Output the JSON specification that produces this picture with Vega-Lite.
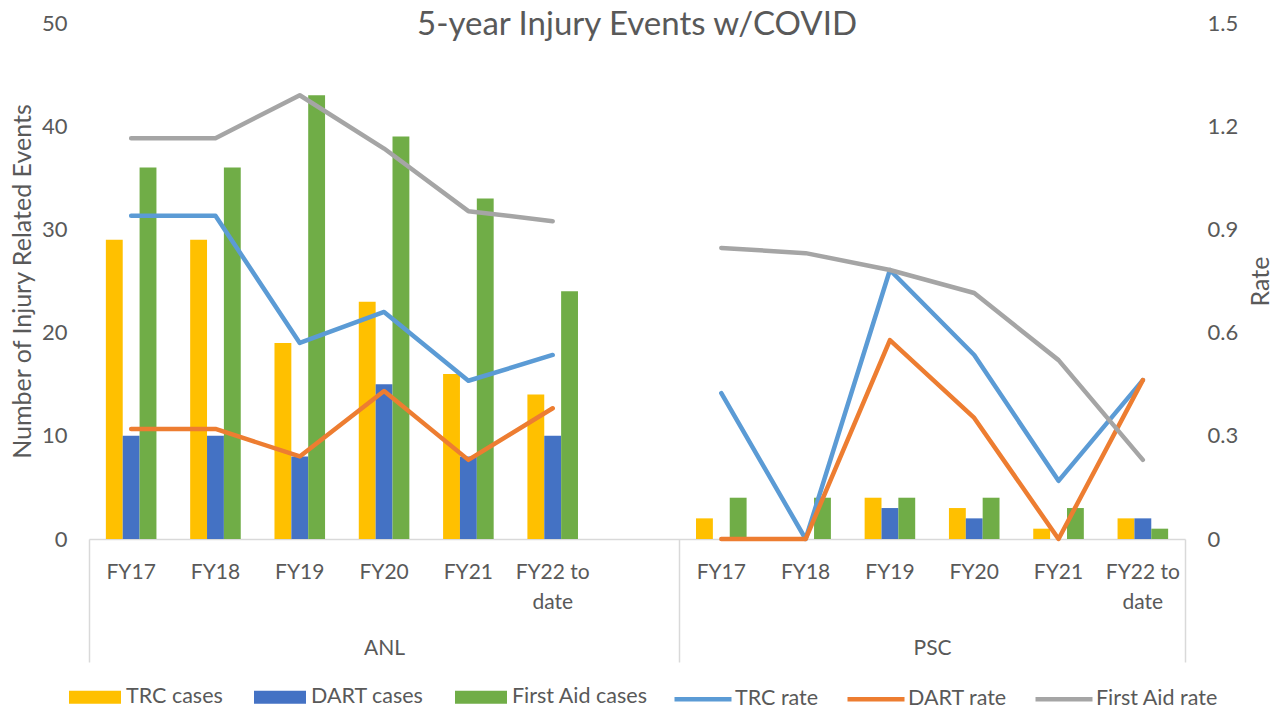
{
  "$schema": "https://vega.github.io/schema/vega-lite/v6.json",
  "width": 1096,
  "height": 516,
  "autosize": {"type": "none"},
  "padding": {"left": 89, "top": 23, "right": 91, "bottom": 170},
  "title": {
    "text": "5-year Injury Events w/COVID",
    "fontSize": 33,
    "font": "Lato",
    "fontWeight": "normal",
    "color": "#595959",
    "anchor": "middle",
    "frame": "group",
    "baseline": "alphabetic",
    "offset": -56
  },
  "config": {
    "view": {"stroke": null},
    "font": "Lato",
    "axis": {
      "labelFont": "Lato",
      "titleFont": "Lato",
      "labelColor": "#595959",
      "titleColor": "#595959",
      "titleFontWeight": "normal",
      "labelFontSize": 22,
      "titleFontSize": 25,
      "grid": false
    },
    "legend": {
      "labelFont": "Lato",
      "labelFontSize": 22,
      "labelColor": "#595959",
      "padding": 0
    }
  },
  "datasets": {
    "cases": [
      {"category": "ANL|FY17", "site": "ANL", "series": "TRC cases", "value": 29},
      {"category": "ANL|FY17", "site": "ANL", "series": "DART cases", "value": 10},
      {"category": "ANL|FY17", "site": "ANL", "series": "First Aid cases", "value": 36},
      {"category": "ANL|FY18", "site": "ANL", "series": "TRC cases", "value": 29},
      {"category": "ANL|FY18", "site": "ANL", "series": "DART cases", "value": 10},
      {"category": "ANL|FY18", "site": "ANL", "series": "First Aid cases", "value": 36},
      {"category": "ANL|FY19", "site": "ANL", "series": "TRC cases", "value": 19},
      {"category": "ANL|FY19", "site": "ANL", "series": "DART cases", "value": 8},
      {"category": "ANL|FY19", "site": "ANL", "series": "First Aid cases", "value": 43},
      {"category": "ANL|FY20", "site": "ANL", "series": "TRC cases", "value": 23},
      {"category": "ANL|FY20", "site": "ANL", "series": "DART cases", "value": 15},
      {"category": "ANL|FY20", "site": "ANL", "series": "First Aid cases", "value": 39},
      {"category": "ANL|FY21", "site": "ANL", "series": "TRC cases", "value": 16},
      {"category": "ANL|FY21", "site": "ANL", "series": "DART cases", "value": 8},
      {"category": "ANL|FY21", "site": "ANL", "series": "First Aid cases", "value": 33},
      {"category": "ANL|FY22 to date", "site": "ANL", "series": "TRC cases", "value": 14},
      {"category": "ANL|FY22 to date", "site": "ANL", "series": "DART cases", "value": 10},
      {"category": "ANL|FY22 to date", "site": "ANL", "series": "First Aid cases", "value": 24},
      {"category": "PSC|FY17", "site": "PSC", "series": "TRC cases", "value": 2},
      {"category": "PSC|FY17", "site": "PSC", "series": "DART cases", "value": 0},
      {"category": "PSC|FY17", "site": "PSC", "series": "First Aid cases", "value": 4},
      {"category": "PSC|FY18", "site": "PSC", "series": "TRC cases", "value": 0},
      {"category": "PSC|FY18", "site": "PSC", "series": "DART cases", "value": 0},
      {"category": "PSC|FY18", "site": "PSC", "series": "First Aid cases", "value": 4},
      {"category": "PSC|FY19", "site": "PSC", "series": "TRC cases", "value": 4},
      {"category": "PSC|FY19", "site": "PSC", "series": "DART cases", "value": 3},
      {"category": "PSC|FY19", "site": "PSC", "series": "First Aid cases", "value": 4},
      {"category": "PSC|FY20", "site": "PSC", "series": "TRC cases", "value": 3},
      {"category": "PSC|FY20", "site": "PSC", "series": "DART cases", "value": 2},
      {"category": "PSC|FY20", "site": "PSC", "series": "First Aid cases", "value": 4},
      {"category": "PSC|FY21", "site": "PSC", "series": "TRC cases", "value": 1},
      {"category": "PSC|FY21", "site": "PSC", "series": "DART cases", "value": 0},
      {"category": "PSC|FY21", "site": "PSC", "series": "First Aid cases", "value": 3},
      {"category": "PSC|FY22 to date", "site": "PSC", "series": "TRC cases", "value": 2},
      {"category": "PSC|FY22 to date", "site": "PSC", "series": "DART cases", "value": 2},
      {"category": "PSC|FY22 to date", "site": "PSC", "series": "First Aid cases", "value": 1}
    ],
    "rates": [
      {"category": "ANL|FY17", "site": "ANL", "series": "TRC rate", "value": 0.94},
      {"category": "ANL|FY18", "site": "ANL", "series": "TRC rate", "value": 0.94},
      {"category": "ANL|FY19", "site": "ANL", "series": "TRC rate", "value": 0.57},
      {"category": "ANL|FY20", "site": "ANL", "series": "TRC rate", "value": 0.66},
      {"category": "ANL|FY21", "site": "ANL", "series": "TRC rate", "value": 0.46},
      {"category": "ANL|FY22 to date", "site": "ANL", "series": "TRC rate", "value": 0.535},
      {"category": "PSC|FY17", "site": "PSC", "series": "TRC rate", "value": 0.424},
      {"category": "PSC|FY18", "site": "PSC", "series": "TRC rate", "value": 0},
      {"category": "PSC|FY19", "site": "PSC", "series": "TRC rate", "value": 0.782},
      {"category": "PSC|FY20", "site": "PSC", "series": "TRC rate", "value": 0.535},
      {"category": "PSC|FY21", "site": "PSC", "series": "TRC rate", "value": 0.169},
      {"category": "PSC|FY22 to date", "site": "PSC", "series": "TRC rate", "value": 0.462},
      {"category": "ANL|FY17", "site": "ANL", "series": "DART rate", "value": 0.32},
      {"category": "ANL|FY18", "site": "ANL", "series": "DART rate", "value": 0.32},
      {"category": "ANL|FY19", "site": "ANL", "series": "DART rate", "value": 0.24},
      {"category": "ANL|FY20", "site": "ANL", "series": "DART rate", "value": 0.43},
      {"category": "ANL|FY21", "site": "ANL", "series": "DART rate", "value": 0.23},
      {"category": "ANL|FY22 to date", "site": "ANL", "series": "DART rate", "value": 0.38},
      {"category": "PSC|FY17", "site": "PSC", "series": "DART rate", "value": 0},
      {"category": "PSC|FY18", "site": "PSC", "series": "DART rate", "value": 0},
      {"category": "PSC|FY19", "site": "PSC", "series": "DART rate", "value": 0.578},
      {"category": "PSC|FY20", "site": "PSC", "series": "DART rate", "value": 0.352},
      {"category": "PSC|FY21", "site": "PSC", "series": "DART rate", "value": 0},
      {"category": "PSC|FY22 to date", "site": "PSC", "series": "DART rate", "value": 0.462},
      {"category": "ANL|FY17", "site": "ANL", "series": "First Aid rate", "value": 1.165},
      {"category": "ANL|FY18", "site": "ANL", "series": "First Aid rate", "value": 1.165},
      {"category": "ANL|FY19", "site": "ANL", "series": "First Aid rate", "value": 1.29},
      {"category": "ANL|FY20", "site": "ANL", "series": "First Aid rate", "value": 1.135},
      {"category": "ANL|FY21", "site": "ANL", "series": "First Aid rate", "value": 0.953},
      {"category": "ANL|FY22 to date", "site": "ANL", "series": "First Aid rate", "value": 0.924},
      {"category": "PSC|FY17", "site": "PSC", "series": "First Aid rate", "value": 0.846},
      {"category": "PSC|FY18", "site": "PSC", "series": "First Aid rate", "value": 0.831},
      {"category": "PSC|FY19", "site": "PSC", "series": "First Aid rate", "value": 0.782},
      {"category": "PSC|FY20", "site": "PSC", "series": "First Aid rate", "value": 0.715},
      {"category": "PSC|FY21", "site": "PSC", "series": "First Aid rate", "value": 0.52},
      {"category": "PSC|FY22 to date", "site": "PSC", "series": "First Aid rate", "value": 0.23}
    ]
  },
  "layer": [
    {
      "layer": [
        {
          "data": {"name": "cases"},
          "mark": {"type": "bar", "strokeWidth": 0},
          "encoding": {
            "x": {
              "field": "category",
              "type": "nominal",
              "scale": {
                "type": "band",
                "domain": ["ANL|FY17", "ANL|FY18", "ANL|FY19", "ANL|FY20", "ANL|FY21", "ANL|FY22 to date", "ANL|", "PSC|FY17", "PSC|FY18", "PSC|FY19", "PSC|FY20", "PSC|FY21", "PSC|FY22 to date"],
                "paddingInner": 0,
                "paddingOuter": 0
              },
              "axis": {
                "orient": "bottom",
                "title": null,
                "ticks": false,
                "domain": true,
                "domainColor": "#D9D9D9",
                "domainWidth": 1.5,
                "labelAngle": 0,
                "labelFontSize": 21,
                "labelPadding": 22,
                "labelLineHeight": 30,
                "labelOverlap": false,
                "labelFlush": false,
                "labelExpr": "split(datum.value, '|')[1] == 'FY22 to date' ? ['FY22 to', 'date'] : split(datum.value, '|')[1]"
              }
            },
            "xOffset": {
              "field": "series",
              "type": "nominal",
              "sort": null,
              "scale": {"domain": ["TRC cases", "DART cases", "First Aid cases"], "paddingInner": 0, "paddingOuter": 1.135}
            },
            "y": {
              "field": "value",
              "type": "quantitative",
              "scale": {"domain": [0, 50], "nice": false},
              "axis": {
                "title": "Number of Injury Related Events",
                "values": [0, 10, 20, 30, 40, 50],
                "domain": false,
                "ticks": false,
                "labelPadding": 22,
                "titlePadding": 6
              }
            },
            "fill": {
              "field": "series",
              "type": "nominal",
              "scale": {"domain": ["TRC cases", "DART cases", "First Aid cases"], "range": ["#FFC000", "#4472C4", "#70AD47"]},
              "legend": {
                "orient": "none",
                "legendX": -20,
                "legendY": 648,
                "direction": "horizontal",
                "title": null,
                "symbolType": "M-1,-0.25H1V0.25H-1Z",
                "symbolSize": 2704,
                "symbolStrokeWidth": 0,
                "symbolOpacity": 1,
                "labelFontSize": 21.5,
                "labelOffset": 5,
                "columnPadding": 31
              }
            }
          }
        },
        {
          "data": {"name": "rates"},
          "mark": {"type": "line", "strokeWidth": 4.5, "strokeCap": "round", "strokeJoin": "round"},
          "encoding": {
            "x": {
              "field": "category",
              "type": "nominal",
              "scale": {
                "type": "band",
                "domain": ["ANL|FY17", "ANL|FY18", "ANL|FY19", "ANL|FY20", "ANL|FY21", "ANL|FY22 to date", "ANL|", "PSC|FY17", "PSC|FY18", "PSC|FY19", "PSC|FY20", "PSC|FY21", "PSC|FY22 to date"],
                "paddingInner": 0,
                "paddingOuter": 0
              }
            },
            "y": {
              "field": "value",
              "type": "quantitative",
              "scale": {"domain": [0, 1.5], "nice": false},
              "axis": {
                "orient": "right",
                "title": "Rate",
                "titleAngle": 270,
                "values": [0, 0.3, 0.6, 0.9, 1.2, 1.5],
                "format": ".1~f",
                "domain": false,
                "ticks": false,
                "labelPadding": 22,
                "titlePadding": 36
              }
            },
            "stroke": {
              "field": "series",
              "type": "nominal",
              "scale": {"domain": ["TRC rate", "DART rate", "First Aid rate"], "range": ["#5B9BD5", "#ED7D31", "#A5A5A5"]},
              "legend": {
                "orient": "none",
                "legendX": 583,
                "legendY": 645,
                "direction": "horizontal",
                "title": null,
                "symbolType": "stroke",
                "symbolSize": 3249,
                "symbolStrokeWidth": 4.5,
                "labelFontSize": 21.5,
                "labelOffset": 1,
                "columnPadding": 19
              }
            },
            "detail": {"field": "site", "type": "nominal"}
          }
        }
      ],
      "resolve": {"scale": {"y": "independent"}}
    },
    {
      "data": {"values": [{}]},
      "mark": {"type": "text"},
      "encoding": {
        "x": {
          "datum": 0,
          "type": "quantitative",
          "scale": {"domain": [0, 13], "nice": false, "zero": false},
          "axis": {
            "orient": "bottom",
            "title": null,
            "values": [0, 3.5, 7, 10, 13],
            "labelExpr": "datum.value == 3.5 ? 'ANL' : (datum.value == 10 ? 'PSC' : '')",
            "domain": false,
            "tickSize": 123,
            "tickWidth": 1.5,
            "tickColor": {"condition": {"test": "datum.value == 3.5 || datum.value == 10", "value": "transparent"}, "value": "#D9D9D9"},
            "labelFontSize": 21,
            "labelPadding": -25,
            "labelOverlap": false,
            "labelFlush": false
          }
        },
        "text": {"value": ""}
      }
    }
  ],
  "resolve": {"scale": {"x": "independent", "y": "independent"}}
}
